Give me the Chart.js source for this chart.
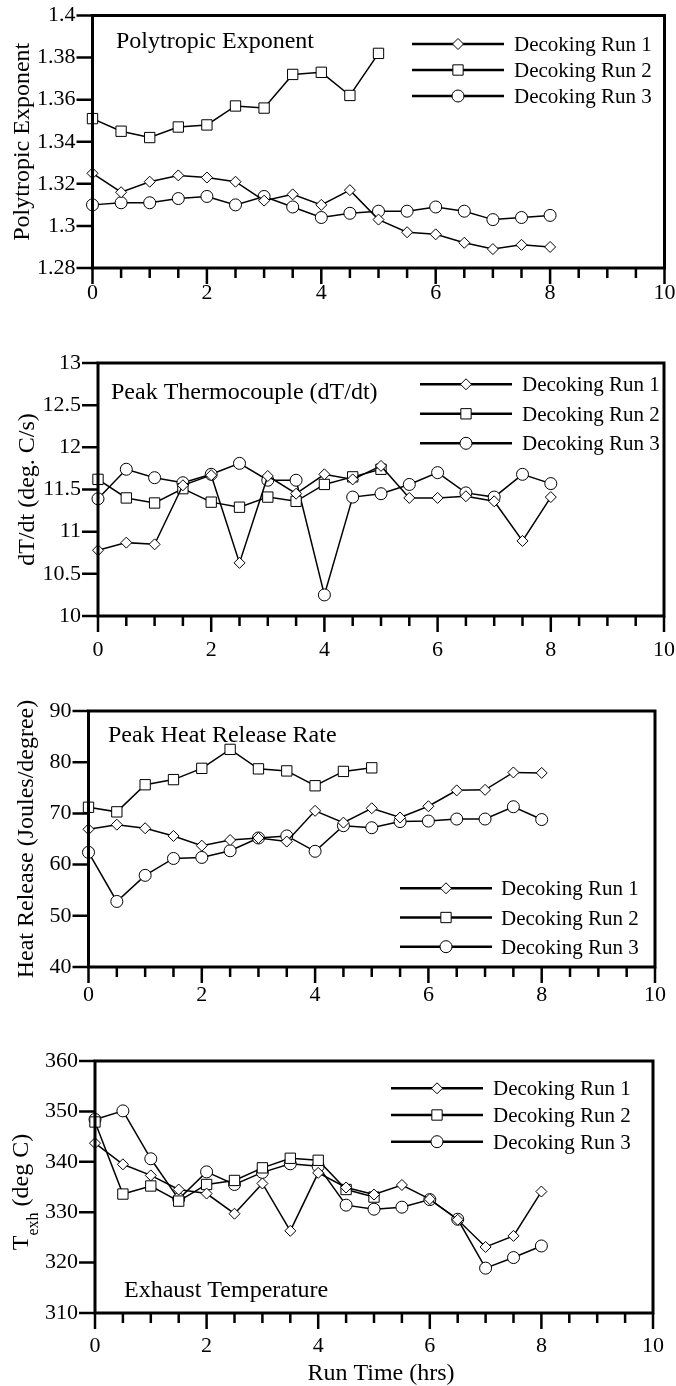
<!DOCTYPE html>
<html>
<head>
<meta charset="utf-8">
<script src="https://cdn.jsdelivr.net/npm/chart.js@4.4.1/dist/chart.umd.min.js"></script>
<style>
  html, body { margin: 0; padding: 0; background: #fff; }
  body { position: relative; width: 676px; height: 1386px; overflow: hidden; }
  canvas { position: absolute; left: 0; }
</style>
</head>
<body>
<canvas id="poly" width="676" height="330" style="top:0px"></canvas>
<canvas id="dtdt" width="676" height="340" style="top:330px"></canvas>
<canvas id="heat" width="676" height="345" style="top:670px"></canvas>
<canvas id="texh" width="676" height="371" style="top:1015px"></canvas>
<script>
// run time (hrs)
const runTime = [0, 0.5, 1, 1.5, 2, 2.5, 3, 3.5, 4, 4.5, 5, 5.5, 6, 6.5, 7, 7.5, 8];
const runTime2 = [0, 0.5, 1, 1.5, 2, 2.5, 3, 3.5, 4, 4.5, 5];
const runNames = ['Decoking Run 1', 'Decoking Run 2', 'Decoking Run 3'];

// x axis ticks
const xTicks = [0, 0.5, 1, 1.5, 2, 2.5, 3, 3.5, 4, 4.5, 5, 5.5, 6, 6.5, 7, 7.5, 8, 8.5, 9, 9.5, 10];
const xLabels = [0, 2, 4, 6, 8, 10];

// Polytropic exponent
const polyRun1 = [1.325, 1.316, 1.321, 1.324, 1.323, 1.321, 1.312, 1.315, 1.310, 1.317, 1.303, 1.297, 1.296, 1.292, 1.289, 1.291, 1.290];
const polyRun2 = [1.351, 1.345, 1.342, 1.347, 1.348, 1.357, 1.356, 1.372, 1.373, 1.362, 1.382];
const polyRun3 = [1.310, 1.311, 1.311, 1.313, 1.314, 1.310, 1.314, 1.309, 1.304, 1.306, 1.307, 1.307, 1.309, 1.307, 1.303, 1.304, 1.305];
const polyTicks = [1.28, 1.3, 1.32, 1.34, 1.36, 1.38, 1.4];

// Peak thermocouple dT/dt
const dtRun1 = [10.78, 10.87, 10.85, 11.55, 11.67, 10.63, 11.66, 11.45, 11.68, 11.62, 11.78, 11.40, 11.40, 11.42, 11.36, 10.89, 11.41];
const dtRun2 = [11.62, 11.40, 11.34, 11.51, 11.35, 11.29, 11.41, 11.36, 11.56, 11.65, 11.74];
const dtRun3 = [11.39, 11.74, 11.64, 11.58, 11.68, 11.81, 11.61, 11.61, 10.25, 11.41, 11.45, 11.56, 11.70, 11.46, 11.41, 11.68, 11.57];
const dtTicks = [10, 10.5, 11, 11.5, 12, 12.5, 13];

// Peak heat release rate
const heatRun1 = [66.9, 67.8, 67.1, 65.6, 63.7, 64.8, 65.2, 64.5, 70.5, 68.2, 71.0, 69.2, 71.4, 74.5, 74.6, 78.0, 77.9];
const heatRun2 = [71.2, 70.3, 75.6, 76.6, 78.8, 82.5, 78.7, 78.3, 75.4, 78.2, 78.9];
const heatRun3 = [62.4, 52.8, 57.9, 61.2, 61.4, 62.7, 65.2, 65.6, 62.6, 67.6, 67.2, 68.4, 68.5, 68.9, 68.9, 71.3, 68.8];
const heatTicks = [40, 50, 60, 70, 80, 90];

// Exhaust temperature
const texhRun1 = [343.7, 339.5, 337.3, 334.5, 333.7, 329.7, 335.7, 326.3, 337.8, 334.9, 333.5, 335.4, 332.6, 328.5, 323.1, 325.3, 334.1];
const texhRun2 = [347.9, 333.6, 335.2, 332.2, 335.5, 336.3, 338.8, 340.7, 340.3, 334.5, 333.0];
const texhRun3 = [348.4, 350.1, 340.6, 332.6, 338.0, 335.5, 337.9, 339.6, 339.1, 331.4, 330.6, 331.0, 332.5, 328.6, 318.9, 321.0, 323.3];
const texhTicks = [310, 320, 330, 340, 350, 360];

const FONT = "'Liberation Serif', 'Times New Roman', serif";
Chart.defaults.font.family = FONT;
Chart.defaults.color = '#000';

const markers = [
  { pointStyle: 'rectRot', pointRadius: 5.5 },
  { pointStyle: 'rect', pointRadius: 7.3 },
  { pointStyle: 'circle', pointRadius: 6 }
];

function drawMarker(ctx, style, r, x, y) {
  ctx.beginPath();
  if (style === 'circle') {
    ctx.arc(x, y, r, 0, Math.PI * 2);
  } else if (style === 'rect') {
    const s = r * Math.SQRT1_2;
    ctx.rect(x - s, y - s, 2 * s, 2 * s);
  } else {
    ctx.moveTo(x - r, y); ctx.lineTo(x, y - r); ctx.lineTo(x + r, y); ctx.lineTo(x, y + r); ctx.closePath();
  }
  ctx.fill();
  ctx.stroke();
}

// box round the plot and outward tick marks
const framePlugin = {
  id: 'frame',
  afterDatasetsDraw(chart) {
    const { ctx, chartArea: a, scales: { x, y } } = chart;
    ctx.save();
    ctx.strokeStyle = '#000';
    ctx.lineWidth = 3;
    ctx.strokeRect(a.left, a.top, a.right - a.left, a.bottom - a.top);
    ctx.lineWidth = 2.5;
    ctx.beginPath();
    x.ticks.forEach(t => {
      const px = x.getPixelForValue(t.value);
      const len = xLabels.includes(t.value) ? 16 : 10;
      ctx.moveTo(px, a.bottom);
      ctx.lineTo(px, a.bottom + len);
    });
    y.ticks.forEach(t => {
      const py = y.getPixelForValue(t.value);
      ctx.moveTo(a.left - 16, py);
      ctx.lineTo(a.left, py);
    });
    ctx.stroke();
    ctx.restore();
  }
};

// panel label, legend and extra titles
const notesPlugin = {
  id: 'notes',
  afterDraw(chart, args, opts) {
    const ctx = chart.ctx;
    ctx.save();
    ctx.fillStyle = '#000';
    ctx.textBaseline = 'alphabetic';
    ctx.font = '24px ' + FONT;
    ctx.fillText(opts.label.text, opts.label.x, opts.label.y);

    const lg = opts.legend;
    chart.data.datasets.forEach((ds, i) => {
      const y = lg.y0 + i * lg.dy;
      ctx.strokeStyle = '#000';
      ctx.lineWidth = 2.5;
      ctx.beginPath();
      ctx.moveTo(lg.x1, y);
      ctx.lineTo(lg.x2, y);
      ctx.stroke();
      ctx.lineWidth = 1;
      ctx.fillStyle = '#fff';
      drawMarker(ctx, ds.pointStyle, ds.pointRadius, lg.xm, y);
      ctx.fillStyle = '#000';
      ctx.font = '21px ' + FONT;
      ctx.fillText(ds.label, lg.xt, y + 7);
    });

    if (opts.xTitle) {
      ctx.font = '24px ' + FONT;
      ctx.textAlign = 'center';
      ctx.fillText(opts.xTitle.text, opts.xTitle.x, opts.xTitle.y);
      ctx.textAlign = 'left';
    }

    if (opts.yTitleSub) {
      const t = opts.yTitleSub;
      const a = chart.chartArea;
      ctx.translate(t.x, (a.top + a.bottom) / 2 + t.dy);
      ctx.rotate(-Math.PI / 2);
      ctx.font = '24px ' + FONT;
      const w1 = ctx.measureText(t.main).width;
      const w3 = ctx.measureText(t.rest).width;
      ctx.font = '16px ' + FONT;
      const w2 = ctx.measureText(t.sub).width;
      let x0 = -(w1 + w2 + w3) / 2;
      ctx.font = '24px ' + FONT;
      ctx.fillText(t.main, x0, t.base);
      ctx.font = '16px ' + FONT;
      ctx.fillText(t.sub, x0 + w1, t.base + t.shift);
      ctx.font = '24px ' + FONT;
      ctx.fillText(t.rest, x0 + w1 + w2, t.base);
    }
    ctx.restore();
  }
};

function series(xs, ys) {
  return xs.map((x, i) => ({ x: x, y: ys[i] }));
}

function buildPanel(id, box, runs, yTicks, yTitle, notes) {
  const datasets = runs.map((r, i) => ({
    label: runNames[i],
    data: series(r.x, r.y),
    borderColor: '#000',
    borderWidth: 1.5,
    tension: 0,
    pointStyle: markers[i].pointStyle,
    pointRadius: markers[i].pointRadius,
    pointBackgroundColor: '#fff',
    pointBorderColor: '#000',
    pointBorderWidth: 1,
    clip: false
  }));

  new Chart(document.getElementById(id), {
    type: 'line',
    data: { datasets },
    plugins: [framePlugin, notesPlugin],
    options: {
      responsive: false,
      animation: false,
      devicePixelRatio: 1,
      layout: { padding: { left: 0, right: 676 - box.right, top: box.top, bottom: 0 } },
      plugins: {
        legend: { display: false },
        tooltip: { enabled: false },
        notes: notes
      },
      scales: {
        x: {
          type: 'linear',
          min: 0,
          max: 10,
          grid: { display: false, drawTicks: false },
          border: { display: false },
          afterBuildTicks: s => { s.ticks = xTicks.map(v => ({ value: v })); },
          afterFit: s => { s.height = box.h - box.bottom; s.paddingLeft = 0; s.paddingRight = 0; },
          ticks: {
            autoSkip: false,
            maxRotation: 0,
            padding: box.xPad,
            font: { size: 22 },
            callback: v => xLabels.includes(v) ? String(v) : ''
          }
        },
        y: {
          type: 'linear',
          min: yTicks[0],
          max: yTicks[yTicks.length - 1],
          grid: { display: false, drawTicks: false },
          border: { display: false },
          afterBuildTicks: s => { s.ticks = yTicks.map(v => ({ value: v })); },
          afterFit: s => { s.width = box.left; s.paddingTop = 0; s.paddingBottom = 0; },
          ticks: { padding: 17, font: { size: 22 }, callback: v => String(v) },
          title: {
            display: !!yTitle,
            text: yTitle || '',
            font: { size: 24 },
            padding: { top: box.titlePad || 0, bottom: 0 }
          }
        }
      }
    }
  });
}

buildPanel('poly',
  { h: 330, left: 92.5, right: 664.5, top: 15.5, bottom: 268, xPad: 12, titlePad: 8.3 },
  [{ x: runTime, y: polyRun1 }, { x: runTime2, y: polyRun2 }, { x: runTime, y: polyRun3 }],
  polyTicks, 'Polytropic Exponent',
  {
    label: { text: 'Polytropic Exponent', x: 116, y: 48 },
    legend: { x1: 412, x2: 504, xm: 458, xt: 514, y0: 44, dy: 26 }
  });

buildPanel('dtdt',
  { h: 340, left: 98, right: 664, top: 33, bottom: 286, xPad: 21, titlePad: 13 },
  [{ x: runTime, y: dtRun1 }, { x: runTime2, y: dtRun2 }, { x: runTime, y: dtRun3 }],
  dtTicks, 'dT/dt (deg. C/s)',
  {
    label: { text: 'Peak Thermocouple (dT/dt)', x: 111, y: 69 },
    legend: { x1: 420, x2: 512, xm: 466, xt: 522, y0: 54.3, dy: 29.5 }
  });

buildPanel('heat',
  { h: 345, left: 88.5, right: 655, top: 41, bottom: 297, xPad: 15, titlePad: 12.6 },
  [{ x: runTime, y: heatRun1 }, { x: runTime2, y: heatRun2 }, { x: runTime, y: heatRun3 }],
  heatTicks, 'Heat Release (Joules/degree)',
  {
    label: { text: 'Peak Heat Release Rate', x: 108, y: 71.5 },
    legend: { x1: 400, x2: 492, xm: 446, xt: 501, y0: 218.3, dy: 29.2 }
  });

buildPanel('texh',
  { h: 371, left: 95, right: 653, top: 46, bottom: 298, xPad: 20 },
  [{ x: runTime, y: texhRun1 }, { x: runTime2, y: texhRun2 }, { x: runTime, y: texhRun3 }],
  texhTicks, null,
  {
    label: { text: 'Exhaust Temperature', x: 124, y: 282.3 },
    legend: { x1: 391, x2: 483, xm: 437, xt: 493, y0: 73.3, dy: 26.7 },
    xTitle: { text: 'Run Time (hrs)', x: 381, y: 365 },
    yTitleSub: { main: 'T', sub: 'exh', rest: ' (deg C)', x: 20, dy: 5, base: 7.5, shift: 10 }
  });
</script>
</body>
</html>
